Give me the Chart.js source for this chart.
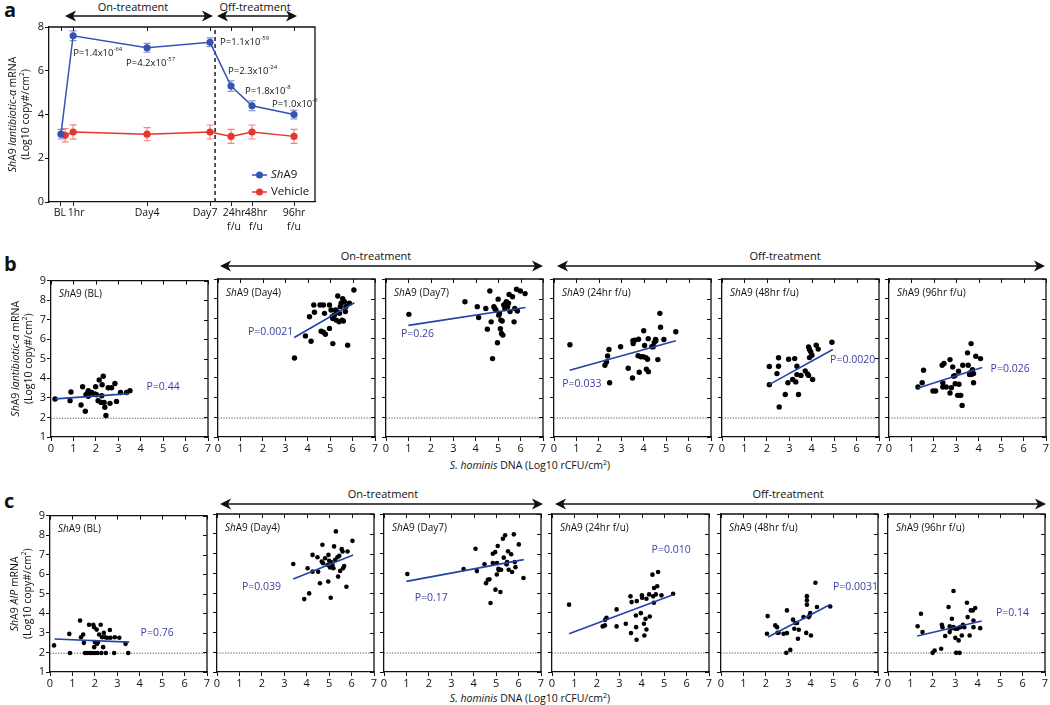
<!DOCTYPE html>
<html><head><meta charset="utf-8">
<script src="https://cdn.jsdelivr.net/npm/chart.js@4.4.1/dist/chart.umd.min.js"></script>
<style>
body{margin:0;background:#fff;width:1050px;height:705px;position:relative;overflow:hidden;font-family:'Open Sans','Liberation Sans',sans-serif;color:#111;}
canvas{position:absolute;}
.t{position:absolute;white-space:nowrap;font-size:11px;transform:translate(-50%,-50%);}
.pl{position:absolute;font-weight:bold;font-size:20px;}
</style></head><body>
<svg id="arr" width="1050" height="705" style="position:absolute;left:0;top:0"></svg>
<div class="pl" style="left:4px;top:-4px">a</div>
<div class="pl" style="left:4px;top:250px">b</div>
<div class="pl" style="left:4px;top:487px">c</div>
<div class="t" style="left:133px;top:6px">On-treatment</div>
<div class="t" style="left:255px;top:6px">Off-treatment</div>
<div class="t" style="left:376px;top:255px">On-treatment</div>
<div class="t" style="left:785px;top:255px">Off-treatment</div>
<div class="t" style="left:383px;top:493px">On-treatment</div>
<div class="t" style="left:788px;top:493px">Off-treatment</div>
<div class="t" style="left:530px;top:465px;font-size:10.5px"><i>S. hominis</i> DNA (Log10 rCFU/cm<sup style="font-size:7px">2</sup>)</div>
<div class="t" style="left:530px;top:698px;font-size:10.5px"><i>S. hominis</i> DNA (Log10 rCFU/cm<sup style="font-size:7px">2</sup>)</div>
<script>
// ---------- Panel a data ----------
const timeLabels = ['BL','1hr','Day4','Day7',['24hr','f/u'],['48hr','f/u'],['96hr','f/u']];
const timeX   = [-0.1, 0.48, 4, 7, 8, 9, 11];
const vehX    = [0.1, 0.48, 4, 7, 8, 9, 11];
const sha9Mean = [3.1, 7.6, 7.05, 7.3, 5.3, 4.4, 4.0];
const sha9Err  = [0.22, 0.22, 0.2, 0.2, 0.24, 0.22, 0.2];
const vehMean  = [3.05, 3.2, 3.1, 3.2, 3.0, 3.2, 3.0];
const vehErr   = [0.3, 0.33, 0.3, 0.32, 0.32, 0.32, 0.32];
const treatEndX = 7.24;
const pA = [['1.4','-64'],['4.2','-57'],['1.1','-59'],['2.3','-24'],['1.8','-8'],['1.0','-6']];
const pAAnchor = [[0.48,6.81],[3.0,6.35],[7.48,7.31],[7.86,5.99],[8.67,5.07],[9.95,4.48]];

// ---------- Panel b/c data ----------
const titles = ['(BL)','(Day4)','(Day7)','(24hr f/u)','(48hr f/u)','(96hr f/u)'];
const lod = 1.96;
const bBL = [[0.18,2.94],[0.85,2.86],[0.89,3.3],[1.34,2.64],[1.41,3.57],[1.53,2.32],[1.56,3.16],[1.62,3.23],[1.66,3.37],[1.66,3.08],[1.74,3.16],[1.81,3.28],[1.96,3.2],[1.99,3.57],[2.03,3.16],[2.1,2.86],[2.15,3.92],[2.23,2.77],[2.26,3.11],[2.28,3.67],[2.33,4.11],[2.37,2.77],[2.4,2.52],[2.45,2.1],[2.55,3.52],[2.63,2.72],[2.7,3.52],[2.85,3.74],[2.92,2.82],[3.1,3.28],[3.37,3.28],[3.52,3.37]];
const bD4 = [[3.41,5.0],[3.9,6.12],[4.08,7.09],[4.15,5.85],[4.27,7.68],[4.3,7.32],[4.55,7.68],[4.6,6.36],[4.7,7.68],[4.7,6.31],[4.75,7.26],[4.79,6.2],[4.97,7.68],[4.97,6.5],[5.04,7.43],[5.09,7.09],[5.12,5.73],[5.12,7.0],[5.19,7.18],[5.24,7.43],[5.27,6.92],[5.3,7.35],[5.34,8.14],[5.4,6.83],[5.42,7.26],[5.45,7.6],[5.49,7.77],[5.53,6.92],[5.56,8.0],[5.59,6.87],[5.64,7.85],[5.68,7.35],[5.7,7.6],[5.78,5.65],[5.86,7.77],[6.06,8.44]];
const bD7 = [[1.02,7.21],[3.52,7.85],[4.07,7.6],[4.13,7.05],[4.45,7.51],[4.52,6.46],[4.63,8.39],[4.69,6.83],[4.75,4.97],[4.81,7.6],[4.85,7.51],[4.9,7.43],[4.97,5.77],[5.0,7.98],[5.03,7.17],[5.06,7.26],[5.1,6.48],[5.12,6.92],[5.15,6.24],[5.18,6.87],[5.21,6.16],[5.25,7.68],[5.3,7.51],[5.34,7.77],[5.34,7.6],[5.37,7.85],[5.42,7.6],[5.43,7.74],[5.46,7.77],[5.49,8.22],[5.53,7.35],[5.64,8.1],[5.71,6.83],[5.74,7.51],[5.82,8.48],[5.86,7.38],[5.99,8.39],[6.2,8.26]];
const b24 = [[0.71,5.67],[2.27,4.63],[2.34,4.8],[2.39,5.1],[2.45,5.43],[2.48,3.75],[2.97,5.57],[3.31,4.48],[3.5,3.99],[3.52,5.87],[3.53,5.73],[3.6,5.9],[3.75,5.12],[3.77,5.95],[3.8,4.28],[3.87,5.06],[3.98,5.06],[4.0,6.38],[4.04,5.63],[4.1,5.02],[4.12,4.43],[4.17,4.94],[4.2,5.98],[4.21,4.31],[4.36,5.57],[4.42,5.57],[4.47,5.79],[4.53,5.94],[4.54,5.87],[4.63,4.92],[4.72,7.26],[4.75,6.56],[4.9,5.94],[5.43,6.33]];
const b48 = [[2.11,4.57],[2.11,3.65],[2.45,4.21],[2.52,4.58],[2.52,5.01],[2.55,2.52],[2.82,3.15],[2.94,3.75],[2.97,4.94],[3.15,3.91],[3.24,4.97],[3.29,3.79],[3.34,4.58],[3.34,4.16],[3.41,3.15],[3.52,4.12],[3.71,4.35],[3.81,4.19],[3.86,4.12],[3.86,5.56],[3.9,5.43],[3.9,5.02],[3.96,5.31],[4.01,5.14],[4.04,3.91],[4.2,5.65],[4.29,5.45],[4.9,5.8]];
const b96 = [[1.29,3.53],[1.48,3.75],[1.54,4.38],[1.96,3.33],[2.08,3.33],[2.37,4.63],[2.4,3.53],[2.4,3.75],[2.45,4.72],[2.55,3.53],[2.72,4.92],[2.72,3.23],[2.78,3.5],[2.84,4.55],[2.88,4.08],[2.94,4.11],[2.95,3.7],[3.06,3.11],[3.1,4.33],[3.12,3.67],[3.16,3.11],[3.2,3.11],[3.26,2.6],[3.29,4.63],[3.5,5.26],[3.53,4.63],[3.59,4.16],[3.62,4.25],[3.66,5.73],[3.69,4.18],[3.72,4.41],[3.77,3.75],[3.77,4.21],[3.87,5.09],[4.08,4.97]];
const cBL = [[0.18,2.36],[0.86,2.95],[0.89,1.97],[1.34,3.63],[1.38,2.78],[1.48,2.92],[1.51,2.49],[1.56,1.97],[1.66,1.97],[1.74,3.42],[1.78,1.97],[1.88,1.97],[1.93,3.42],[1.97,3.29],[1.97,2.27],[2.0,2.53],[2.0,1.97],[2.08,3.17],[2.1,2.44],[2.11,1.97],[2.14,2.53],[2.19,2.92],[2.26,3.42],[2.29,1.97],[2.32,2.78],[2.37,2.27],[2.4,3.0],[2.45,2.78],[2.49,1.97],[2.55,2.75],[2.67,3.15],[2.7,2.75],[2.86,1.97],[2.89,2.78],[3.09,2.75],[3.37,2.44],[3.49,1.97]];
const cD4 = [[3.4,6.47],[3.89,4.69],[4.04,6.25],[4.11,4.98],[4.26,6.08],[4.26,6.93],[4.48,6.81],[4.51,6.08],[4.59,5.49],[4.67,6.59],[4.7,7.44],[4.73,6.51],[4.82,6.76],[4.93,6.42],[4.96,5.58],[4.97,6.93],[5.0,6.63],[5.04,6.29],[5.07,4.76],[5.1,6.56],[5.15,6.42],[5.19,6.25],[5.22,7.36],[5.27,6.68],[5.3,8.12],[5.37,6.81],[5.4,5.83],[5.45,6.88],[5.49,6.12],[5.56,7.22],[5.6,7.1],[5.62,6.25],[5.67,6.37],[5.77,5.32],[5.82,7.1],[6.04,7.64]];
const cD7 = [[1.04,5.96],[3.55,6.21],[4.08,7.24],[4.14,6.11],[4.48,6.45],[4.55,5.5],[4.63,5.67],[4.7,5.69],[4.75,4.49],[4.85,6.99],[4.85,6.52],[4.96,7.07],[4.97,5.17],[5.03,5.94],[5.04,6.52],[5.07,7.38],[5.1,6.23],[5.12,6.15],[5.15,6.18],[5.19,5.05],[5.22,6.18],[5.3,7.75],[5.34,6.79],[5.4,7.92],[5.45,6.48],[5.47,6.45],[5.49,6.57],[5.53,7.11],[5.56,6.18],[5.67,6.96],[5.71,6.06],[5.79,7.97],[5.83,6.57],[5.86,6.31],[6.01,7.46],[6.22,5.76]];
const c24 = [[0.76,4.41],[2.26,3.31],[2.36,3.36],[2.37,3.64],[2.43,3.75],[2.88,4.17],[2.88,3.31],[3.29,3.44],[3.5,4.83],[3.52,2.97],[3.55,4.54],[3.74,3.86],[3.75,3.27],[3.77,2.63],[3.78,4.59],[3.96,3.98],[4.01,4.88],[4.02,4.76],[4.1,3.44],[4.12,2.85],[4.17,3.69],[4.21,3.15],[4.21,4.71],[4.33,4.93],[4.36,3.81],[4.48,5.93],[4.51,4.83],[4.54,4.51],[4.55,5.25],[4.63,4.93],[4.69,5.34],[4.73,6.06],[4.88,4.88],[5.4,4.96]];
const c48 = [[2.05,2.94],[2.08,3.83],[2.42,3.36],[2.5,3.27],[2.52,2.99],[2.57,2.99],[2.79,2.94],[2.91,1.97],[2.94,2.97],[2.94,4.12],[3.09,2.12],[3.21,3.65],[3.27,3.19],[3.31,3.48],[3.39,3.48],[3.43,2.68],[3.47,3.14],[3.68,3.78],[3.8,2.98],[3.83,4.84],[3.83,4.63],[3.83,4.41],[3.91,3.78],[3.95,3.86],[3.98,3.98],[4.01,2.85],[4.21,5.52],[4.28,4.29],[4.87,4.32]];
const c96 = [[1.32,3.32],[1.47,3.95],[1.54,3.02],[1.99,1.97],[2.08,2.09],[2.37,2.18],[2.4,3.39],[2.43,3.27],[2.55,2.82],[2.7,4.29],[2.75,3.32],[2.75,3.02],[2.8,3.19],[2.85,3.7],[2.92,5.1],[2.92,3.27],[3.0,2.73],[3.0,3.19],[3.04,1.97],[3.1,3.19],[3.15,2.6],[3.19,1.97],[3.22,3.27],[3.29,2.85],[3.34,3.39],[3.4,3.27],[3.52,4.51],[3.55,3.78],[3.64,2.85],[3.69,4.12],[3.78,4.12],[3.81,3.61],[3.81,3.27],[3.89,4.24],[4.11,3.22]];
// regression line endpoints: [x1,y1,x2,y2]
const bFits = [[0.2,2.95,3.5,3.22],[3.4,6.04,6.08,7.8],[1.0,6.65,6.22,7.56],[0.7,4.38,5.43,5.87],[2.1,3.65,4.94,5.43],[1.3,3.48,4.15,4.52]];
const cFits = [[0.2,2.69,3.53,2.53],[3.4,5.71,6.07,6.92],[1.0,5.59,6.23,6.69],[0.76,2.94,5.4,4.91],[2.1,2.77,4.87,4.42],[1.3,2.82,4.18,3.58]];
const bP = ['P=0.44','P=0.0021','P=0.26','P=0.033','P=0.0020','P=0.026'];
const cP = ['P=0.76','P=0.039','P=0.17','P=0.010','P=0.0031','P=0.14'];
// label anchor (data coords, left edge / middle)
const bPAnchor = [[4.26,3.55],[1.34,6.33],[0.67,6.2],[0.37,3.7],[4.82,4.92],[4.53,4.43]];
const cPAnchor = [[4.04,3.0],[1.11,5.32],[1.37,4.74],[4.44,7.16],[4.99,5.3],[4.81,4.0]];

// ---------- helpers ----------
const FONT = '"Open Sans", "Liberation Sans", sans-serif';
const INK = '#111';
const BLUE = '#2243a6';
const PBLUE = '#3a3fa3';
function fontFor(p,size){ const s = p[1]==='s' ? size*0.62 : size; return (p[1]==='i'?'italic ':'') + s + 'px ' + FONT; }
function richWidth(ctx, parts, size){ let w=0; for(const p of parts){ ctx.font=fontFor(p,size); w+=ctx.measureText(p[0]).width; } return w; }
function rich(ctx, parts, x, y, size, color, align){
  ctx.save(); ctx.fillStyle=color; ctx.textBaseline='middle'; ctx.textAlign='left';
  const w = richWidth(ctx, parts, size);
  let cx = align==='center' ? x-w/2 : (align==='right' ? x-w : x);
  for(const p of parts){ ctx.font=fontFor(p,size); ctx.fillText(p[0], cx, p[1]==='s' ? y-size*0.4 : y); cx += ctx.measureText(p[0]).width; }
  ctx.restore();
}
function richV(ctx, parts, x, y, size, color){
  ctx.save(); ctx.translate(x,y); ctx.rotate(-Math.PI/2); rich(ctx, parts, 0, 0, size, color, 'center'); ctx.restore();
}

const framePlugin = {
  id:'frame',
  afterDatasetsDraw(chart, args, o){
    const {ctx, chartArea:a, scales} = chart;
    ctx.save(); ctx.strokeStyle=INK; ctx.lineWidth=1.3;
    ctx.beginPath(); ctx.moveTo(a.left, a.top); ctx.lineTo(a.right, a.top); ctx.lineTo(a.right, a.bottom); ctx.stroke();
    ctx.lineWidth=1; ctx.beginPath();
    if(o.top){ scales.x.ticks.forEach(t=>{ const px=Math.round(scales.x.getPixelForValue(t.value))+0.5; ctx.moveTo(px,a.top); ctx.lineTo(px,a.top+4); }); }
    if(o.right){ scales.y.ticks.forEach(t=>{ const py=Math.round(scales.y.getPixelForValue(t.value))+0.5; ctx.moveTo(a.right,py); ctx.lineTo(a.right-4,py); }); }
    ctx.stroke(); ctx.restore();
  }
};
const annotPlugin = {
  id:'annot',
  afterDraw(chart, args, o){
    const {ctx, chartArea:a, scales} = chart;
    if(o.title) rich(ctx, o.title, a.left+8, a.top+14, 10, INK, 'left');
    if(o.p){ rich(ctx, [[o.p,'']], scales.x.getPixelForValue(o.pAt[0]), scales.y.getPixelForValue(o.pAt[1]), 10.5, PBLUE, 'left'); }
    if(o.ytitle){
      const cy = (a.top+a.bottom)/2;
      richV(ctx, o.ytitle[0], a.left-35, cy, 10.5, INK);
      richV(ctx, o.ytitle[1], a.left-22, cy, 10.5, INK);
    }
  }
};
const errPlugin = {
  id:'errbars',
  beforeDatasetsDraw(chart){
    const {ctx, scales} = chart;
    chart.data.datasets.forEach((ds)=>{
      if(!ds.errorBars) return;
      ctx.save(); ctx.strokeStyle=ds.errColor; ctx.lineWidth=1.2; ctx.beginPath();
      ds.data.forEach((p,i)=>{
        const x=scales.x.getPixelForValue(p.x), y1=scales.y.getPixelForValue(p.y-ds.errorBars[i]), y2=scales.y.getPixelForValue(p.y+ds.errorBars[i]);
        ctx.moveTo(x,y1); ctx.lineTo(x,y2); ctx.moveTo(x-3.5,y1); ctx.lineTo(x+3.5,y1); ctx.moveTo(x-3.5,y2); ctx.lineTo(x+3.5,y2);
      });
      ctx.stroke(); ctx.restore();
    });
  }
};

function axisCfg(min,max,step,showLabels,fixed,isX){
  return {
    type:'linear', min, max,
    ticks:{stepSize:step, display:showLabels, color:INK, font:{size:11, family:FONT}, padding:1, maxRotation:0, autoSkip:false},
    grid:{drawOnChartArea:false, tickLength:4, color:INK, lineWidth:1},
    border:{color:INK, width:1.3},
    afterFit(s){ if(isX) s.height=fixed; else s.width=fixed; }
  };
}

function scatter(left, top, pts, fit, idx, pText, pAt, yTitle, rad){
  const W=157, H=158, L = yTitle ? left : 8, T=6, R=6, B=28;
  const cv = document.createElement('canvas');
  cv.width=L+W+R; cv.height=T+H+B;
  cv.style.left=(left-L)+'px'; cv.style.top=(top-T)+'px';
  document.body.appendChild(cv);
  new Chart(cv, {
    type:'scatter',
    data:{datasets:[
      {data:fit ? [{x:fit[0],y:fit[1]},{x:fit[2],y:fit[3]}] : [], showLine:true, borderColor:BLUE, borderWidth:1.6, pointRadius:0, order:0},
      {data:pts.map(p=>({x:p[0],y:p[1]})), pointRadius:rad, pointBackgroundColor:'#000', pointBorderWidth:0, order:1},
      {data:[{x:0,y:lod},{x:7,y:lod}], showLine:true, borderColor:'#555', borderWidth:1, borderDash:[1.2,1.5], pointRadius:0, order:2}
    ]},
    options:{
      responsive:false, animation:false, events:[], devicePixelRatio:1,
      layout:{padding:{top:T, right:R, left:0, bottom:0}},
      plugins:{legend:{display:false}, tooltip:{enabled:false},
        frame:{top:true, right:true},
        annot:{title:[['Sh','i'],['A9 '+titles[idx],'']], p:pText, pAt, ytitle:yTitle}},
      scales:{ x:axisCfg(0,7,1,true,B,true), y:axisCfg(1,9,1,!!yTitle,L,false) }
    },
    plugins:[framePlugin, annotPlugin]
  });
}

const yTitleB = [[['Sh','i'],['A9 ',''],['lantibiotic-α','i'],[' mRNA','']], [['(Log10 copy#/cm',''],['2','s'],[')','']]];
const yTitleC = [[['Sh','i'],['A9 ',''],['AIP','i'],[' mRNA','']], [['(Log10 copy#/cm',''],['2','s'],[')','']]];
const bLefts = [51,218,386,554,722,889];
const cLefts = [50,217,384,552,721,888];
const bSets = [bBL,bD4,bD7,b24,b48,b96];
const cSets = [cBL,cD4,cD7,c24,c48,c96];
bSets.forEach((s,i)=>scatter(bLefts[i], 279, s, bFits[i], i, bP[i], bPAnchor[i], i===0?yTitleB:null, 2.7));
cSets.forEach((s,i)=>scatter(cLefts[i], 514, s, cFits[i], i, cP[i], cPAnchor[i], i===0?yTitleC:null, 2.3));

// ---------- Panel a ----------
(function(){
  const L=49, T=27, R=15, B=43;
  const labelDx = [-1, 3, 0, -5, 3, 4, 0];   // small horizontal nudges of the hand-placed tick labels
  const cv=document.createElement('canvas'); cv.width=330; cv.height=245; cv.style.left='0px'; cv.style.top='0px';
  document.body.appendChild(cv);
  const aBlue='#3453b4', aRed='#e8352b';
  const aAnnot = {
    id:'aAnnot',
    afterDraw(chart){
      const {ctx, chartArea:a, scales} = chart;
      // x tick labels
      ctx.save(); ctx.fillStyle=INK; ctx.font='10.5px '+FONT; ctx.textAlign='center'; ctx.textBaseline='middle';
      scales.x.ticks.forEach((t,i)=>{
        const px=scales.x.getPixelForValue(t.value)+labelDx[i];
        const lab=timeLabels[i];
        (Array.isArray(lab)?lab:[lab]).forEach((s,k)=>ctx.fillText(s, px, a.bottom+11+k*14));
      });
      ctx.restore();
      pA.forEach((p,i)=>rich(ctx, [['P='+p[0]+'x10',''],[p[1],'s']], scales.x.getPixelForValue(pAAnchor[i][0]), scales.y.getPixelForValue(pAAnchor[i][1]), 9.5, INK, 'left'));
      const items=[[[['Sh','i'],['A9','']],aBlue],[[['Vehicle','']],aRed]];
      items.forEach((it,k)=>{
        const y=a.bottom-27+k*17;
        ctx.save(); ctx.strokeStyle=it[1]; ctx.fillStyle=it[1]; ctx.lineWidth=1.5;
        ctx.beginPath(); ctx.moveTo(a.right-63,y); ctx.lineTo(a.right-48,y); ctx.stroke();
        ctx.beginPath(); ctx.arc(a.right-55.5,y,3.5,0,Math.PI*2); ctx.fill(); ctx.restore();
        rich(ctx, it[0], a.right-44, y, 11.5, INK, 'left');
      });
      const cy=(a.top+a.bottom)/2;
      richV(ctx, yTitleB[0], a.left-36, cy, 10.5, INK);
      richV(ctx, yTitleB[1], a.left-23, cy, 10.5, INK);
    }
  };
  const xa = {
    type:'linear', min:-0.67, max:12,
    afterBuildTicks(s){ s.ticks = timeX.map(v=>({value:v})); },
    ticks:{display:false, autoSkip:false, maxRotation:0},
    grid:{drawOnChartArea:false, tickLength:4, color:INK, lineWidth:1},
    border:{color:INK, width:1.3},
    afterFit(s){ s.height=B; }
  };
  new Chart(cv,{
    type:'scatter',
    data:{datasets:[
      {data:timeX.map((x,i)=>({x,y:sha9Mean[i]})), showLine:true, borderColor:aBlue, borderWidth:1.5, pointRadius:3.6, pointBackgroundColor:aBlue, pointBorderWidth:0, errorBars:sha9Err, errColor:'rgba(52,83,180,0.6)', order:0},
      {data:vehX.map((x,i)=>({x,y:vehMean[i]})), showLine:true, borderColor:aRed, borderWidth:1.5, pointRadius:3.6, pointBackgroundColor:aRed, pointBorderWidth:0, errorBars:vehErr, errColor:'rgba(232,53,43,0.6)', order:1},
      {data:[{x:treatEndX,y:0},{x:treatEndX,y:8}], showLine:true, borderColor:INK, borderWidth:1.4, borderDash:[4,3], pointRadius:0, order:2}
    ]},
    options:{
      responsive:false, animation:false, events:[], devicePixelRatio:1,
      layout:{padding:{top:T,right:R,left:0,bottom:0}},
      plugins:{legend:{display:false}, tooltip:{enabled:false}, frame:{top:true,right:false}},
      scales:{ x:xa, y:axisCfg(0,8,2,true,L,false) }
    },
    plugins:[errPlugin, framePlugin, aAnnot]
  });
})();

// ---------- arrows ----------
(function(){
  const svg=document.getElementById('arr');
  const arrows=[[65,213,16],[217,297,16],[220,543,266],[557,1045,266],[220,543,504],[555,1046,504]];
  let h='';
  arrows.forEach(([x1,x2,y])=>{
    h+=`<line x1="${x1+6}" y1="${y}" x2="${x2-6}" y2="${y}" stroke="#111" stroke-width="1.6"/>`;
    h+=`<path d="M${x2} ${y} L${x2-11} ${y-5.5} L${x2-8} ${y} L${x2-11} ${y+5.5} Z" fill="#111"/>`;
    h+=`<path d="M${x1} ${y} L${x1+11} ${y-5.5} L${x1+8} ${y} L${x1+11} ${y+5.5} Z" fill="#111"/>`;
  });
  svg.innerHTML=h;
})();
</script>
</body></html>
